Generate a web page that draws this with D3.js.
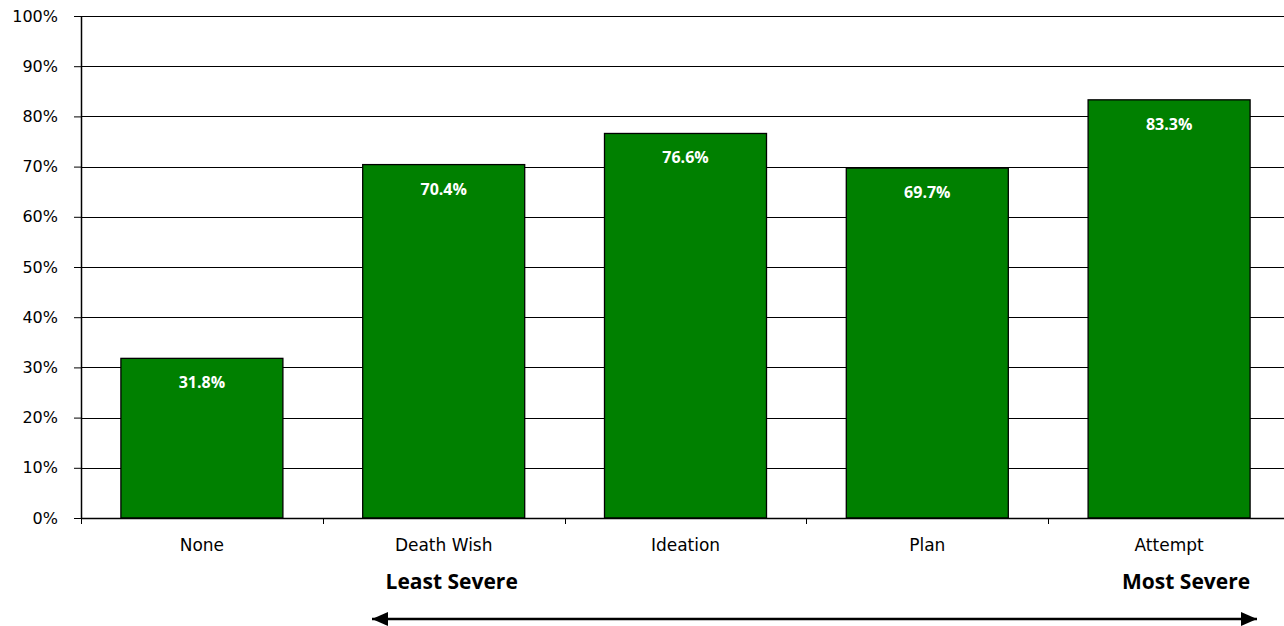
<!DOCTYPE html>
<html>
<head>
<meta charset="utf-8">
<script src="https://cdn.jsdelivr.net/npm/d3@7"></script>
<style>
  body { margin: 0; background: #fff; }
  svg { display: block; overflow: hidden; }
</style>
</head>
<body>
<div id="chart"></div>
<script>
const categories = ["None", "Death Wish", "Ideation", "Plan", "Attempt"];
const values = [31.8, 70.4, 76.6, 69.7, 83.3];
const yTicks = [0, 10, 20, 30, 40, 50, 60, 70, 80, 90, 100];

const W = 1284, H = 626;
const margin = { top: 16, left: 81, bottom: 108 };
const plotW = 1209;
const plotH = H - margin.top - margin.bottom;

const svg = d3.select("#chart").append("svg")
    .attr("width", W)
    .attr("height", H);

const g = svg.append("g")
    .attr("transform", `translate(${margin.left},${margin.top})`);

const x = d3.scaleBand()
    .domain(categories)
    .range([0, plotW])
    .paddingInner(0.33)
    .paddingOuter(0.165);

const y = d3.scaleLinear()
    .domain([0, 100])
    .range([plotH, 0]);

// gridlines
g.append("g")
    .selectAll("line")
    .data(yTicks.filter(d => d > 0))
    .join("line")
    .attr("x1", 0)
    .attr("x2", plotW)
    .attr("y1", d => Math.round(y(d)) + 0.5)
    .attr("y2", d => Math.round(y(d)) + 0.5)
    .attr("stroke", "#000")
    .attr("stroke-width", 1);

// bars
g.selectAll(".bar")
    .data(values)
    .join("rect")
    .attr("class", "bar")
    .attr("x", (d, i) => x(categories[i]))
    .attr("width", x.bandwidth())
    .attr("y", d => y(d))
    .attr("height", d => plotH - y(d))
    .attr("fill", "#008000")
    .attr("stroke", "#000")
    .attr("stroke-width", 1.3);

// value labels
g.selectAll(".val")
    .data(values)
    .join("text")
    .attr("class", "val")
    .attr("x", (d, i) => x(categories[i]) + x.bandwidth() / 2)
    .attr("y", d => y(d) + 30)
    .attr("text-anchor", "middle")
    .attr("fill", "#fff")
    .attr("font-family", "'Open Sans', sans-serif")
    .attr("font-weight", "bold")
    .attr("font-size", "16px")
    .text(d => d.toFixed(1) + "%");

// y axis
const yAxis = g.append("g")
    .call(d3.axisLeft(y).tickValues(yTicks).tickSize(7).tickPadding(16).tickFormat(d => d + "%"));
yAxis.select(".domain").attr("stroke", "#000").attr("stroke-width", 1.5).attr("d", `M0.5,0V${plotH}`);
yAxis.selectAll("text")
    .attr("font-family", "'DejaVu Sans', Verdana, sans-serif")
    .attr("font-size", "16px")
    .attr("fill", "#000");

// x axis
const xAxis = g.append("g")
    .attr("transform", `translate(0,${plotH})`)
    .call(d3.axisBottom(x).tickSize(0).tickPadding(21));
xAxis.select(".domain").attr("stroke", "#000").attr("stroke-width", 1.5).attr("d", `M0,0.5H${plotW}`);
xAxis.selectAll("text")
    .attr("font-family", "'DejaVu Sans', Verdana, sans-serif")
    .attr("font-size", "17px")
    .attr("fill", "#000");

// category boundary ticks
const step = x.step();
g.append("g")
    .selectAll("line")
    .data(d3.range(0, categories.length + 1))
    .join("line")
    .attr("x1", i => Math.round(i * step) + 0.5)
    .attr("x2", i => Math.round(i * step) + 0.5)
    .attr("y1", plotH)
    .attr("y2", plotH + 6)
    .attr("stroke", "#000")
    .attr("stroke-width", 1);

// severity annotation
const cx1 = margin.left + x("Death Wish") + x.bandwidth() / 2;
const cx2 = margin.left + x("Attempt") + x.bandwidth() / 2;

svg.append("text")
    .attr("x", cx1 + 8)
    .attr("y", 589)
    .attr("text-anchor", "middle")
    .attr("font-family", "'Open Sans', sans-serif")
    .attr("font-weight", "bold")
    .attr("font-size", "21px")
    .text("Least Severe");

svg.append("text")
    .attr("x", cx2 + 17)
    .attr("y", 589)
    .attr("text-anchor", "middle")
    .attr("font-family", "'Open Sans', sans-serif")
    .attr("font-weight", "bold")
    .attr("font-size", "21px")
    .text("Most Severe");

const defs = svg.append("defs");
["start", "end"].forEach(k => {
    defs.append("marker")
        .attr("id", "arrow-" + k)
        .attr("viewBox", "0 0 10 10")
        .attr("preserveAspectRatio", "none")
        .attr("refX", k === "end" ? 10 : 0)
        .attr("refY", 5)
        .attr("markerUnits", "userSpaceOnUse")
        .attr("markerWidth", 16)
        .attr("markerHeight", 14)
        .attr("orient", "auto")
        .append("path")
        .attr("d", k === "end" ? "M0,0L10,5L0,10Z" : "M10,0L0,5L10,10Z")
        .attr("fill", "#000");
});

svg.append("line")
    .attr("x1", 372)
    .attr("x2", 1257)
    .attr("y1", 619)
    .attr("y2", 619)
    .attr("stroke", "#000")
    .attr("stroke-width", 2.5)
    .attr("marker-start", "url(#arrow-start)")
    .attr("marker-end", "url(#arrow-end)");
</script>
</body>
</html>
